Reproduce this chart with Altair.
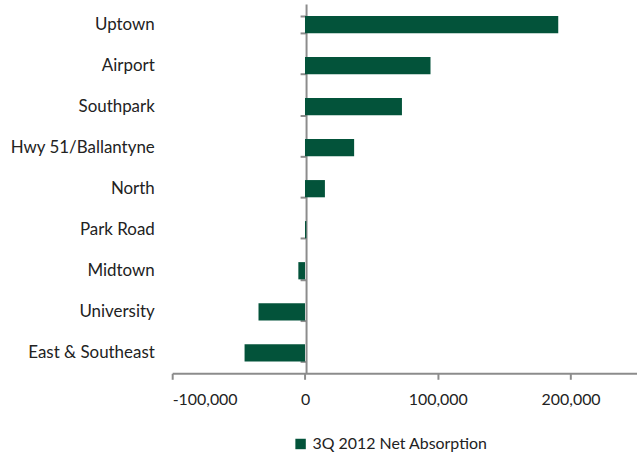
import altair as alt
import pandas as pd

categories = ["Uptown", "Airport", "Southpark", "Hwy 51/Ballantyne", "North",
              "Park Road", "Midtown", "University", "East & Southeast"]
values = [190700, 94500, 73000, 37000, 15000, 1000, -5000, -35000, -45500]
series = "3Q 2012 Net Absorption"

df = pd.DataFrame({"Submarket": categories, "Value": values, "Series": series})

FONT = "Lato"
GRAY = "#8c8c8c"
GREEN = "#03533A"

yscale = alt.Scale(domain=categories, paddingInner=0.58, paddingOuter=0.29)

bars = alt.Chart(df).mark_bar(color=GREEN).encode(
    y=alt.Y("Submarket:N", sort=categories, scale=yscale,
            axis=alt.Axis(title=None, orient="left", domain=False, ticks=False, labelFont=FONT,
                          labelFontSize=17, labelColor="#222222", labelPadding=18)),
    x=alt.X("Value:Q", scale=alt.Scale(domain=[-100000, 250000], nice=False),
            axis=alt.Axis(title=None, values=[-100000, 0, 100000, 200000],
                          labelExpr="replace(format(datum.value, ','), '\u2212', '-')",
                          grid=False, domainColor=GRAY, domainWidth=2, tickColor=GRAY,
                          tickWidth=2, tickSize=6, labelFont=FONT, labelFontSize=16,
                          labelColor="#222222", labelPadding=12)),
    color=alt.Color("Series:N", scale=alt.Scale(range=[GREEN]),
                    legend=alt.Legend(title=None, orient="none", legendX=121, legendY=434,
                                      symbolType="square", symbolSize=110, labelLimit=400,
                                      labelFont=FONT, labelFontSize=16, labelColor="#222222")),
)

zero = alt.Chart(df).mark_tick(opacity=0).encode(
    y=alt.Y("Submarket:N", sort=categories, scale=yscale,
            axis=alt.Axis(title=None, orient="left", labels=False, domain=True, domainColor=GRAY,
                          domainWidth=2, ticks=True, tickBand="extent", tickColor=GRAY,
                          tickWidth=2, tickSize=6, offset=-134.5)),
    x=alt.X("Value:Q"),
)

chart = alt.layer(bars, zero).resolve_axis(y="independent").properties(
    width=467, height=371,
    autosize=alt.AutoSizeParams(type="none"),
    padding={"left": 173, "top": 3, "right": 0, "bottom": 80},
).configure_view(stroke=None)

chart.save("out.html", embed_options={"renderer": "svg", "actions": False})
